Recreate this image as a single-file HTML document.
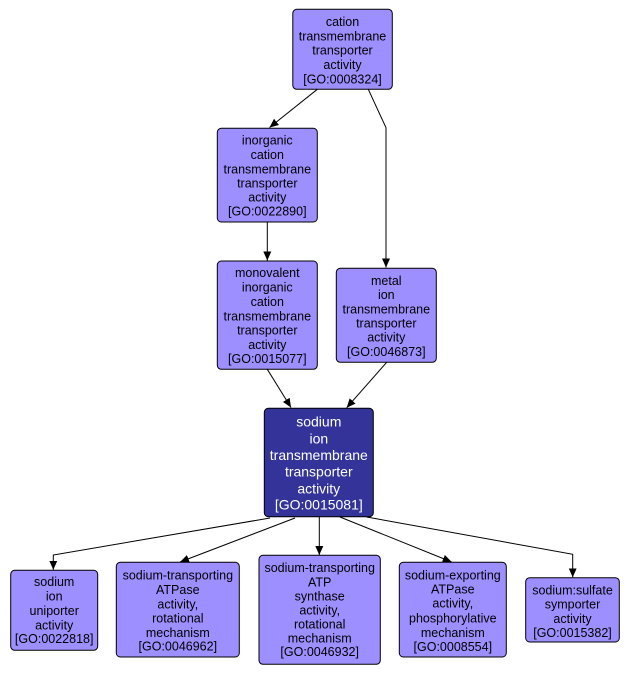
<!DOCTYPE html>
<html><head><meta charset="utf-8"><style>
html,body{margin:0;padding:0;background:#fff;}
svg{display:block;}
text{font-family:"Liberation Sans",Arial,sans-serif;text-anchor:middle;}
.l{font-size:12.5px;fill:#000;}
.d{font-size:14px;fill:#fff;}
.n{fill:#9d8fff;stroke:#000;stroke-width:1;}
.k{fill:#333399;stroke:#000;stroke-width:1;}
.e{stroke:#000;stroke-width:1;fill:none;}
</style></head><body>
<svg width="629" height="676" viewBox="0 0 629 676" xmlns="http://www.w3.org/2000/svg">
<defs>
<marker id="a" markerWidth="10" markerHeight="8" refX="9" refY="4" orient="auto" markerUnits="userSpaceOnUse">
<path d="M0,0 L9,4 L0,8 z" fill="#000"/>
</marker>
</defs>
<!-- edges -->
<path class="e" d="M317.3,89.3 L269.5,127.5" marker-end="url(#a)"/>
<path class="e" d="M368.3,89.3 L386,127.7 L386,267.5" marker-end="url(#a)"/>
<path class="e" d="M267.3,222 L267.3,260.5" marker-end="url(#a)"/>
<path class="e" d="M267.3,369.3 L291,407.5" marker-end="url(#a)"/>
<path class="e" d="M386.7,362.3 L346.7,407.7" marker-end="url(#a)"/>
<path class="e" d="M270,518 L53.3,555 L53.3,569.8" marker-end="url(#a)"/>
<path class="e" d="M295,518 L180,562" marker-end="url(#a)"/>
<path class="e" d="M319.3,517 L319.3,555" marker-end="url(#a)"/>
<path class="e" d="M340,517 L451.7,562" marker-end="url(#a)"/>
<path class="e" d="M366.7,517 L572.7,554.3 L572.7,577.3" marker-end="url(#a)"/>
<!-- nodes -->
<rect class="n" x="292.8" y="9.3" width="99.5" height="80" rx="4"/>
<text class="l" x="342.5"><tspan x="342.5" y="26">cation</tspan><tspan x="342.5" y="40.3">transmembrane</tspan><tspan x="342.5" y="54.6">transporter</tspan><tspan x="342.5" y="68.9">activity</tspan><tspan x="342.5" y="83.3">[GO:0008324]</tspan></text>

<rect class="n" x="217.3" y="128.3" width="100" height="93.7" rx="4"/>
<text class="l"><tspan x="267.3" y="144.5">inorganic</tspan><tspan x="267.3" y="159">cation</tspan><tspan x="267.3" y="173.3">transmembrane</tspan><tspan x="267.3" y="187.3">transporter</tspan><tspan x="267.3" y="201.3">activity</tspan><tspan x="267.3" y="215.5">[GO:0022890]</tspan></text>

<rect class="n" x="217.3" y="261" width="100" height="108.3" rx="4"/>
<text class="l"><tspan x="267.3" y="276.8">monovalent</tspan><tspan x="267.3" y="291.5">inorganic</tspan><tspan x="267.3" y="306">cation</tspan><tspan x="267.3" y="320.4">transmembrane</tspan><tspan x="267.3" y="334.6">transporter</tspan><tspan x="267.3" y="348.8">activity</tspan><tspan x="267.3" y="362.8">[GO:0015077]</tspan></text>

<rect class="n" x="336.3" y="268.3" width="100" height="94" rx="4"/>
<text class="l"><tspan x="386.3" y="285.2">metal</tspan><tspan x="386.3" y="299">ion</tspan><tspan x="386.3" y="313.4">transmembrane</tspan><tspan x="386.3" y="327.4">transporter</tspan><tspan x="386.3" y="341.5">activity</tspan><tspan x="386.3" y="356">[GO:0046873]</tspan></text>

<rect class="k" x="264.3" y="408.3" width="109" height="108.4" rx="4"/>
<text class="d"><tspan x="318.8" y="426.7">sodium</tspan><tspan x="318.8" y="443.3">ion</tspan><tspan x="318.8" y="460">transmembrane</tspan><tspan x="318.8" y="476.7">transporter</tspan><tspan x="318.8" y="493.3">activity</tspan><tspan x="318.8" y="509.5">[GO:0015081]</tspan></text>

<rect class="n" x="10.7" y="570.3" width="87" height="80" rx="4"/>
<text class="l"><tspan x="54.2" y="586.2">sodium</tspan><tspan x="54.2" y="600.5">ion</tspan><tspan x="54.2" y="615">uniporter</tspan><tspan x="54.2" y="629.3">activity</tspan><tspan x="54.2" y="642.8">[GO:0022818]</tspan></text>

<rect class="n" x="116.3" y="562.3" width="123" height="94.7" rx="4"/>
<text class="l"><tspan x="177.8" y="579.5">sodium-transporting</tspan><tspan x="177.8" y="593.8">ATPase</tspan><tspan x="177.8" y="608.3">activity,</tspan><tspan x="177.8" y="622.7">rotational</tspan><tspan x="177.8" y="637">mechanism</tspan><tspan x="177.8" y="650.4">[GO:0046962]</tspan></text>

<rect class="n" x="259" y="555.3" width="121.3" height="109" rx="4"/>
<text class="l"><tspan x="319.7" y="572.2">sodium-transporting</tspan><tspan x="319.7" y="586.4">ATP</tspan><tspan x="319.7" y="600.5">synthase</tspan><tspan x="319.7" y="614.6">activity,</tspan><tspan x="319.7" y="628.6">rotational</tspan><tspan x="319.7" y="642.7">mechanism</tspan><tspan x="319.7" y="656.2">[GO:0046932]</tspan></text>

<rect class="n" x="399.3" y="562.3" width="107" height="94.7" rx="4"/>
<text class="l"><tspan x="452.8" y="579.5">sodium-exporting</tspan><tspan x="452.8" y="593.5">ATPase</tspan><tspan x="452.8" y="607.5">activity,</tspan><tspan x="452.8" y="622.4">phosphorylative</tspan><tspan x="452.8" y="637">mechanism</tspan><tspan x="452.8" y="651">[GO:0008554]</tspan></text>

<rect class="n" x="525.7" y="577.7" width="93.6" height="64.3" rx="4"/>
<text class="l"><tspan x="572.5" y="594.5">sodium:sulfate</tspan><tspan x="572.5" y="608.5">symporter</tspan><tspan x="572.5" y="622.8">activity</tspan><tspan x="572.5" y="637">[GO:0015382]</tspan></text>
</svg>
</body></html>
